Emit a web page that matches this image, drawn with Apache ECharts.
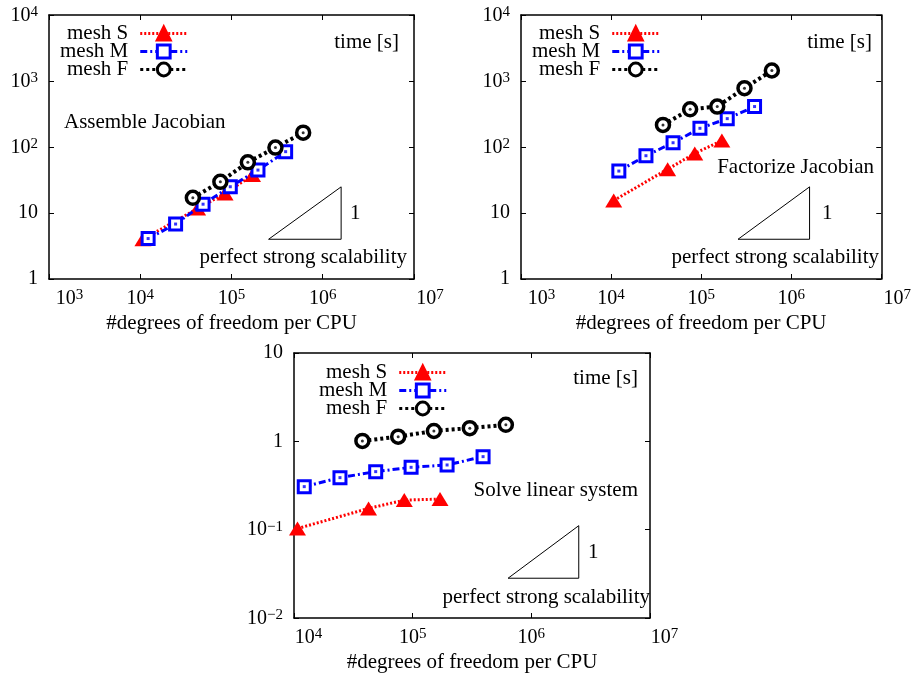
<!DOCTYPE html>
<html><head><meta charset="utf-8">
<script src="https://cdn.jsdelivr.net/npm/echarts@6/dist/echarts.min.js"></script>
<style>html,body{margin:0;padding:0;background:#fff}#c{width:914px;height:676px}</style>
</head><body><div id="c"></div>
<script>
// ---- data ----
const xS = [10700, 42500, 85000, 170000];
const xM = [12200, 24400, 48800, 97000, 195000, 392000];
const xF = [37700, 75500, 151000, 303000, 610000];
// Assemble Jacobian
const asmS = [4.0, 11.7, 19.8, 37.5];
const asmM = [4.1, 6.8, 13.6, 25.0, 44.7, 85];
const asmF = [17.0, 29.7, 58.5, 98, 165];
// Factorize Jacobian
const facS = [15.5, 46, 80, 125];
const facM = [43.2, 73.8, 116, 192, 269, 410];
const facF = [216, 373, 410, 778, 1443];
// Solve linear system
const solS = [0.103, 0.174, 0.216, 0.222];
const solM = [0.307, 0.388, 0.454, 0.508, 0.54, 0.671];
const solF = [1.01, 1.13, 1.31, 1.41, 1.54];
// slope-1 reference triangles
const triA = [[2.55e5, 4], [1.59e6, 4], [1.59e6, 24.9], [2.55e5, 4]];
const triB = [[2.57e5, 4], [1.60e6, 4], [1.60e6, 24.9], [2.57e5, 4]];
const triC = [[6.37e5, 0.0282], [2.51e6, 0.0282], [2.51e6, 0.111], [6.37e5, 0.0282]];
// texts
const seriesNames = ['mesh S', 'mesh M', 'mesh F'];
const panelTitles = ['Assemble Jacobian', 'Factorize Jacobian', 'Solve linear system'];
const yUnit = 'time [s]';
const xTitle = '#degrees of freedom per CPU';
const scaleNote = 'perfect strong scalability';
const slopeLabel = '1';

const FONT = 'Liberation Serif';
const FS = 20;   // tick labels
const FT = 21;   // other texts
const RED = '#ff0000', BLUE = '#0000ff', BLACK = '#000000';
const zip = (xs, ys) => xs.map((x, i) => [x, ys[i]]);

function mkRich(padMin, padMax) {
  const base = { fontFamily: FONT, fontSize: FS, color: '#000', verticalAlign: 'bottom' };
  return {
    b: base,
    bp: Object.assign({}, base, { padding: [0, 0, 0, padMin] }),
    bq: Object.assign({}, base, { padding: [0, 0, 0, padMax] }),
    s: { fontFamily: FONT, fontSize: 15, color: '#000', verticalAlign: 'bottom', padding: [0, 0, 6, 0] }
  };
}
function powLabel(v, lo, hi) {
  const e = Math.round(Math.log10(v));
  if (e === 0) return '1';
  if (e === 1) return '10';
  const es = e < 0 ? '\u2212' + (-e) : String(e);
  let key = 'b';
  if (lo !== null && e === Math.round(Math.log10(lo))) key = 'bp';
  if (hi !== null && e === Math.round(Math.log10(hi))) key = 'bq';
  return '{' + key + '|10}{s|' + es + '}';
}

const grids = [
  { left: 49, top: 15, width: 365, height: 264 },
  { left: 521, top: 15, width: 365, height: 264 },
  { left: 294, top: 353, width: 356, height: 265 }
];
const ranges = [
  { x: [1e3, 1e7], xs: 4, y: [1, 1e4], ys: 4, padMin: 41, padMax: 32 },
  { x: [1e3, 1e7], xs: 4, y: [1, 1e4], ys: 4, padMin: 41, padMax: 32 },
  { x: [1e4, 1e7], xs: 3, y: [1e-2, 10], ys: 3, padMin: 29, padMax: 29 }
];
const axisLine = { show: true, onZero: false, lineStyle: { color: '#000', width: 1.5 } };
const axisTick = { show: true, inside: true, length: 5, lineStyle: { color: '#000', width: 1 } };

const xAxis = [], yAxis = [];
ranges.forEach((r, gi) => {
  xAxis.push({
    type: 'log', logBase: 10, gridIndex: gi, min: r.x[0], max: r.x[1], splitNumber: r.xs,
    position: 'bottom', axisLine, axisTick, splitLine: { show: false },
    axisLabel: {
      margin: 9, fontFamily: FONT, fontSize: FS, color: '#000', rich: mkRich(r.padMin, r.padMax),
      showMinLabel: true, showMaxLabel: true,
      formatter: (v) => powLabel(v, r.x[0], r.x[1])
    },
    name: xTitle, nameLocation: 'middle', nameGap: 34,
    nameTextStyle: { fontFamily: FONT, fontSize: FT, color: '#000' }
  });
  xAxis.push({
    type: 'log', logBase: 10, gridIndex: gi, min: r.x[0], max: r.x[1], splitNumber: r.xs,
    position: 'top', axisLine, axisTick, splitLine: { show: false }, axisLabel: { show: false }
  });
  yAxis.push({
    type: 'log', logBase: 10, gridIndex: gi, min: r.y[0], max: r.y[1], splitNumber: r.ys,
    position: 'left', axisLine, axisTick, splitLine: { show: false },
    axisLabel: {
      margin: 11, fontFamily: FONT, fontSize: FS, color: '#000', rich: mkRich(0, 0),
      formatter: (v) => powLabel(v, null, null)
    }
  });
  yAxis.push({
    type: 'log', logBase: 10, gridIndex: gi, min: r.y[0], max: r.y[1], splitNumber: r.ys,
    position: 'right', axisLine, axisTick, splitLine: { show: false }, axisLabel: { show: false }
  });
});

const panelData = [
  [asmS, asmM, asmF, triA],
  [facS, facM, facF, triB],
  [solS, solM, solF, triC]
];
const series = [];
panelData.forEach((pd, gi) => {
  const xi = gi * 2, yi = gi * 2;
  series.push({
    type: 'line', name: 'tri' + gi, xAxisIndex: xi, yAxisIndex: yi, data: pd[3],
    showSymbol: false, symbol: 'none', silent: true, z: 1,
    lineStyle: { color: '#000', width: 1 }
  });
  series.push({
    type: 'line', name: seriesNames[0], xAxisIndex: xi, yAxisIndex: yi, data: zip(xS, pd[0]),
    symbol: 'triangle', symbolSize: [17, 14], z: 3,
    itemStyle: { color: RED, borderColor: RED, borderWidth: 0 },
    lineStyle: { color: RED, width: 3, type: [2, 2] }
  });
  series.push({
    type: 'line', name: seriesNames[1], xAxisIndex: xi, yAxisIndex: yi, data: zip(xM, pd[1]),
    symbol: 'rect', symbolSize: 12, z: 4,
    itemStyle: { color: '#fff', borderColor: BLUE, borderWidth: 3 },
    lineStyle: { color: BLUE, width: 3, type: [7, 3, 2, 3] }
  });
  series.push({
    type: 'scatter', name: 'dotM' + gi, xAxisIndex: xi, yAxisIndex: yi, data: zip(xM, pd[1]),
    symbol: 'rect', symbolSize: 3, z: 5, silent: true, itemStyle: { color: BLUE }
  });
  series.push({
    type: 'line', name: seriesNames[2], xAxisIndex: xi, yAxisIndex: yi, data: zip(xF, pd[2]),
    symbol: 'circle', symbolSize: 13, z: 6,
    itemStyle: { color: '#fff', borderColor: BLACK, borderWidth: 3.5 },
    lineStyle: { color: BLACK, width: 4, type: [3, 3] }
  });
  series.push({
    type: 'scatter', name: 'dotF' + gi, xAxisIndex: xi, yAxisIndex: yi, data: zip(xF, pd[2]),
    symbol: 'circle', symbolSize: 3, z: 7, silent: true, itemStyle: { color: BLACK }
  });
});

const legendPos = [{ left: 60, top: 23 }, { left: 532, top: 23 }, { left: 319, top: 362 }];
const legend = legendPos.map(p => ({
  data: seriesNames, orient: 'vertical', align: 'right', left: p.left, top: p.top,
  padding: 0, itemGap: -3, itemWidth: 47, itemHeight: 16,
  lineStyle: { width: 3 },
  itemStyle: { borderWidth: 3 },
  textStyle: { fontFamily: FONT, fontSize: FT, color: '#000', lineHeight: 18, padding: [0, 7, 0, 0] },
  selectedMode: false
}));

function txt(text, x, y, align) {
  return {
    type: 'text', x: x, y: y, silent: true, z: 100,
    style: { text: text, fill: '#000', font: FT + 'px "' + FONT + '"',
      textAlign: align, align: align, textVerticalAlign: 'middle', verticalAlign: 'middle' }
  };
}
const graphic = [
  txt(yUnit, 399, 42, 'right'), txt(yUnit, 872, 42, 'right'), txt(yUnit, 638, 378, 'right'),
  txt(panelTitles[0], 64, 122, 'left'), txt(panelTitles[1], 874, 167, 'right'), txt(panelTitles[2], 638, 490, 'right'),
  txt(scaleNote, 407, 257, 'right'), txt(scaleNote, 879, 257, 'right'), txt(scaleNote, 650, 597, 'right'),
  txt(slopeLabel, 350, 213, 'left'), txt(slopeLabel, 822, 213, 'left'), txt(slopeLabel, 588, 552, 'left')
];

const chart = echarts.init(document.getElementById('c'), null, { renderer: 'canvas' });
chart.setOption({
  animation: false,
  backgroundColor: '#fff',
  grid: grids,
  xAxis, yAxis, series, legend, graphic
});
</script>
</body></html>
